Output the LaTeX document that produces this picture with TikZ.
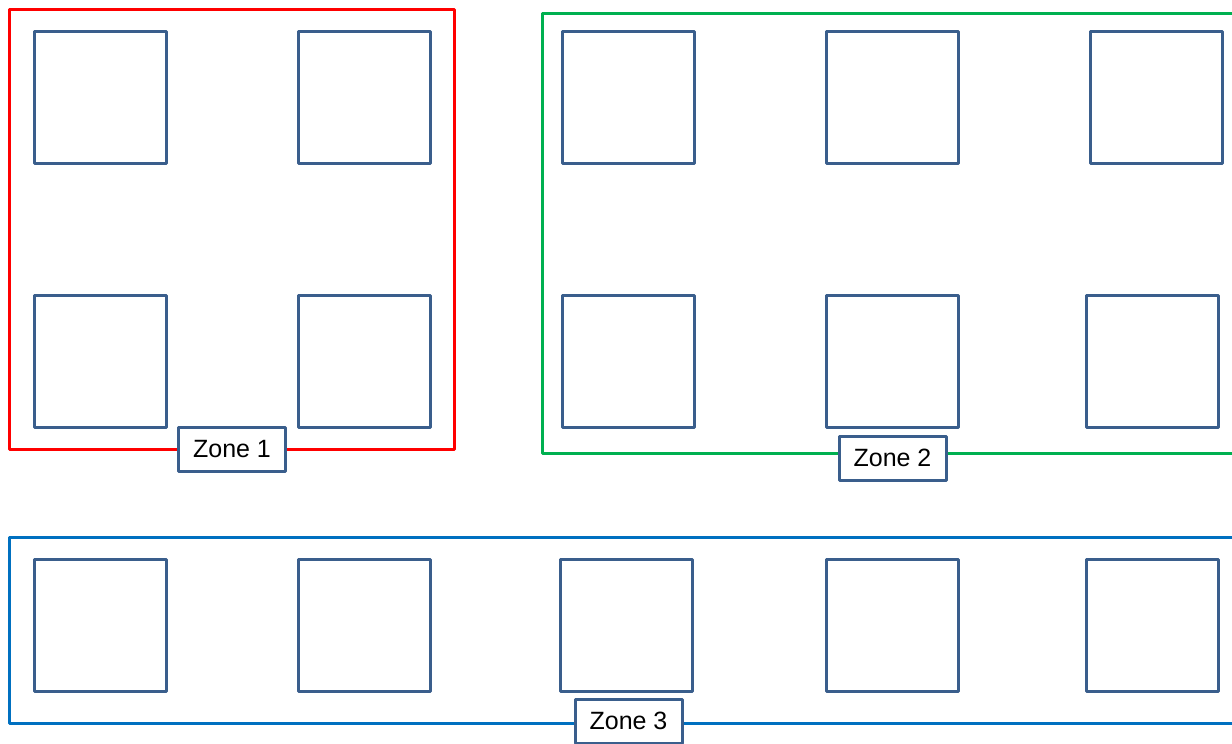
\documentclass[tikz,border=0pt]{standalone}
\usepackage{fontspec}
\setmainfont{Liberation Sans}
\definecolor{boxblue}{HTML}{3A5E8C}
\definecolor{zonered}{HTML}{FF0000}
\definecolor{zonegreen}{HTML}{00B050}
\definecolor{zoneblue}{HTML}{0070C0}
\begin{document}
\begin{tikzpicture}[x=1pt,y=-1pt,
  cell/.style={draw=boxblue,line width=3pt,line join=round,fill=white,
    minimum width=132pt,minimum height=132pt,inner sep=0pt,outer sep=0pt},
  zone/.style={line width=3pt,line join=round},
  zonelabel/.style={draw=boxblue,line width=3pt,line join=round,fill=white,
    minimum width=107pt,minimum height=44pt,inner sep=0pt,
    font=\fontsize{25}{30}\selectfont}]
\useasboundingbox (0,0) rectangle (1232,744);
\clip (0,0) rectangle (1232,744);

% zone frames
\draw[zone,zonered]   (9,9) rectangle (454,449);
\draw[zone,zonegreen] (542,13) rectangle (1260,453);
\draw[zone,zoneblue]  (9,537) rectangle (1260,723);

% zone 1 cells
\node[cell] (z1a) at (100,97) {};
\node[cell] (z1b) at (364,97) {};
\node[cell] (z1c) at (100,361) {};
\node[cell] (z1d) at (364,361) {};

% zone 2 cells
\node[cell] (z2a) at (628,97) {};
\node[cell] (z2b) at (892,97) {};
\node[cell] (z2c) at (1156,97) {};
\node[cell] (z2d) at (628,361) {};
\node[cell] (z2e) at (892,361) {};
\node[cell] (z2f) at (1152,361) {};

% zone 3 cells
\node[cell] (z3a) at (100,625) {};
\node[cell] (z3b) at (364,625) {};
\node[cell] (z3c) at (626,625) {};
\node[cell] (z3d) at (892,625) {};
\node[cell] (z3e) at (1152,625) {};

% zone labels
\node[zonelabel] (l1) at (232,449) {Zone 1};
\node[zonelabel] (l2) at (892.5,458) {Zone 2};
\node[zonelabel] (l3) at (628.5,721) {Zone 3};
\end{tikzpicture}
\end{document}
